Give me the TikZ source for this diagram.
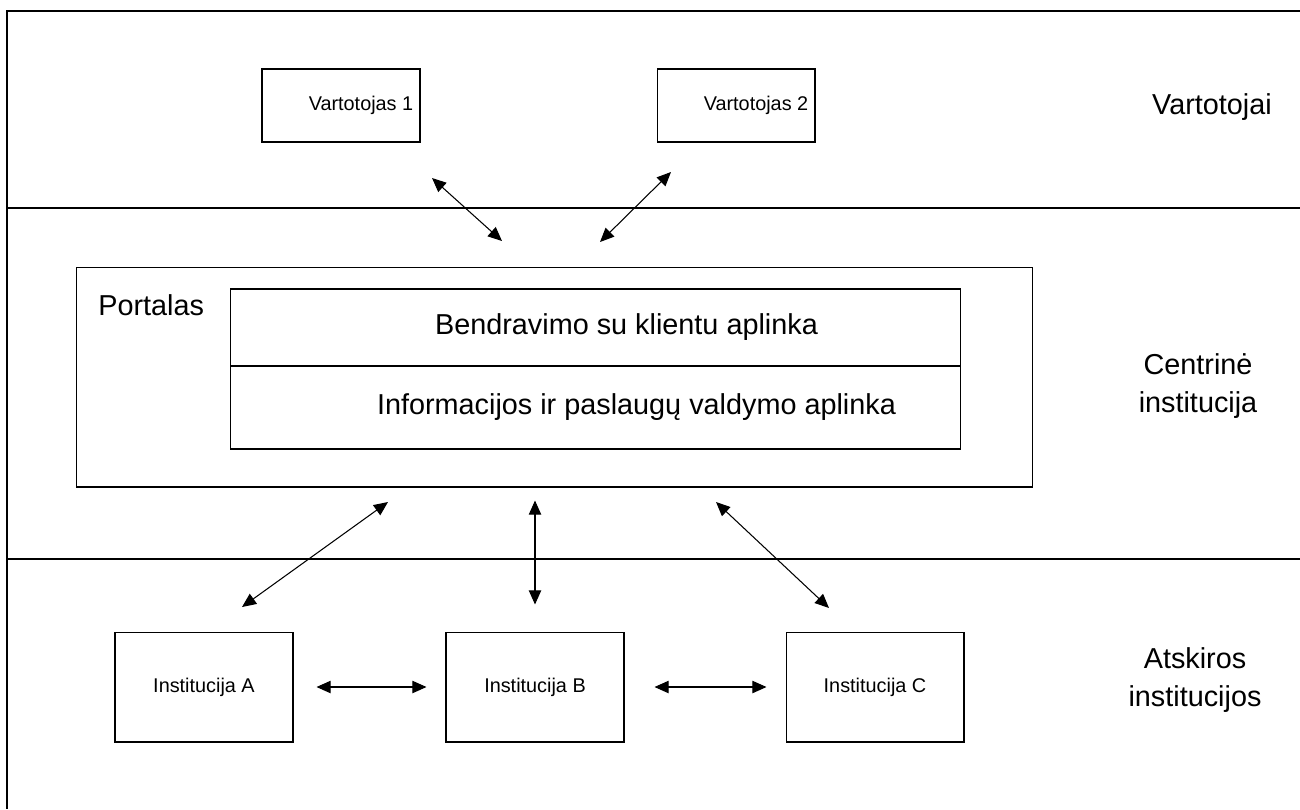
\documentclass[tikz,border=0pt]{standalone}
\usepackage{fontspec}
\setmainfont{Liberation Sans}
\usetikzlibrary{arrows.meta,positioning}

\begin{document}
\begin{tikzpicture}[x=0.02cm,y=-0.02cm,
  every node/.style={font=\fontsize{11.3}{13.5}\selectfont},
  band/.style={line width=0.7pt},
  layer/.style={font=\fontsize{16.4}{21.5}\selectfont,align=center},
  user/.style={draw,line width=0.6pt,minimum width=3.16cm,minimum height=1.46cm,inner sep=0pt},
  unit/.style={draw,line width=0.6pt,minimum width=3.56cm,minimum height=2.2cm,inner sep=0pt},
  area/.style={draw,line width=0.6pt,minimum width=14.62cm,inner sep=0pt,outer sep=0pt,font=\fontsize{16.4}{19}\selectfont},
  to/.style={{Triangle[length=8pt,width=7pt]}-{Triangle[length=8pt,width=7pt]},line width=0.6pt}]

    \useasboundingbox (0,0) rectangle (1300,809);

    \draw[band] (1300,11) -- (7,11) -- (7,809);
    \draw[band] (7,208) -- (1300,208);
    \draw[band] (7,559) -- (1300,559);

    \node[layer] (tusers) at (1212,107) {Vartotojai};
    \node[layer] (tcentre) at (1198,386) {Centrinė\\institucija};
    \node[layer] (tlocal) at (1195,680) {Atskiros\\institucijos};

    \node[user] (user1) at (341,105.5) {\hspace*{0.8cm}Vartotojas 1};
    \node[user] (user2) at (736,105.5) {\hspace*{0.8cm}Vartotojas 2};

    \node[draw,line width=0.6pt,minimum width=19.14cm,minimum height=4.4cm] (portal) at (554.5,377) {};
    \node[layer,anchor=west,inner sep=0pt] (tportal) at (98,305) {Portalas};
    \node[area,minimum height=1.54cm] (front) at (595.5,327.5) {\hspace*{1.24cm}Bendravimo su klientu aplinka};
    \node[area,minimum height=1.66cm,below=0pt of front] (back) {\hspace*{1.64cm}Informacijos ir paslaugų valdymo aplinka};

    \node[unit] (instA) at (204,687) {Institucija A};
    \node[unit] (instB) at (535,687) {Institucija B};
    \node[unit] (instC) at (875,687) {Institucija C};

    \coordinate (u1a) at (432,178);
    \coordinate (u1b) at (502,241);
    \coordinate (u2a) at (671,172);
    \coordinate (u2b) at (600,242);
    \coordinate (pa) at (388,502);
    \coordinate (pb) at (242,607);
    \coordinate (pc) at (716,502);
    \coordinate (pd) at (829,608);

    \draw[to] (u1a) -- (u1b);
    \draw[to] (u2a) -- (u2b);
    \draw[to] (pa) -- (pb);
    \draw[to] (pc) -- (pd);
    \draw[to,shorten <=0.26cm,shorten >=0.54cm] (instB.north |- portal.south) -- (instB.north);
    \draw[to,shorten <=0.46cm,shorten >=0.38cm] (instA) -- (instB);
    \draw[to,shorten <=0.6cm,shorten >=0.38cm] (instB) -- (instC);
\end{tikzpicture}
\end{document}
